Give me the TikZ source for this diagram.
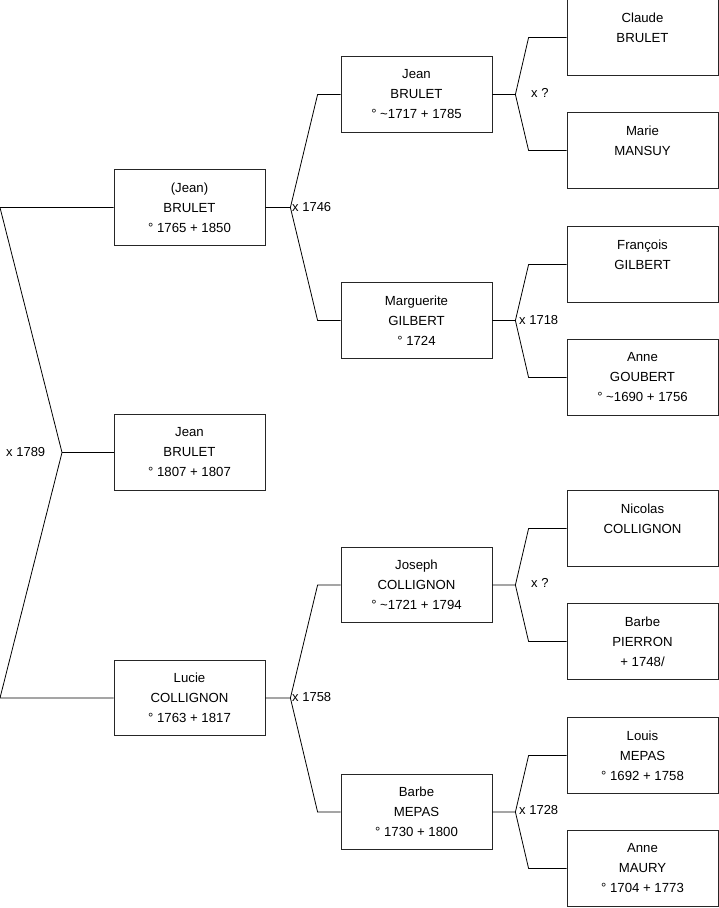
\documentclass[tikz,border=0pt]{standalone}
\usepackage{fontspec}
\setmainfont{Liberation Sans}
\begin{document}
\begin{tikzpicture}[x=1pt,y=-1pt,
  person/.style={draw=black!85,line width=0.8pt,minimum width=151pt,minimum height=75.5pt,
    inner sep=0pt,align=center,font=\fontsize{13.2}{20}\selectfont,text=black},
  link/.style={draw=black,line width=0.8pt},
  mlabel/.style={anchor=west,inner sep=0pt,font=\fontsize{13}{15}\selectfont}
]
\useasboundingbox (0,0) rectangle (719,908);
\coordinate (o) at (0,0);
% column 1
\node[person] (p1) at (189.5,207.5) {(Jean)\\BRULET\\° 1765 + 1850};
\node[person] (p2) at (189.5,452.5) {Jean\\BRULET\\° 1807 + 1807};
\node[person] (p3) at (189.5,698) {Lucie\\COLLIGNON\\° 1763 + 1817};
% column 2
\node[person] (q1) at (416.5,94.5) {Jean\\BRULET\\° \textasciitilde 1717 + 1785};
\node[person] (q2) at (416.5,320.5) {Marguerite\\GILBERT\\° 1724};
\node[person] (q3) at (416.5,585) {Joseph\\COLLIGNON\\° \textasciitilde 1721 + 1794};
\node[person] (q4) at (416.5,812) {Barbe\\MEPAS\\° 1730 + 1800};
% column 3
\node[person] (r1) at (642.5,37.5) {Claude\\BRULET\\\phantom{X}};
\node[person] (r2) at (642.5,150.5) {Marie\\MANSUY\\\phantom{X}};
\node[person] (r3) at (642.5,264.5) {François\\GILBERT\\\phantom{X}};
\node[person] (r4) at (642.5,377.5) {Anne\\GOUBERT\\° \textasciitilde 1690 + 1756};
\node[person] (r5) at (642.5,528.5) {Nicolas\\COLLIGNON\\\phantom{X}};
\node[person] (r6) at (642.5,641.5) {Barbe\\PIERRON\\+ 1748/};
\node[person] (r7) at (642.5,755.5) {Louis\\MEPAS\\° 1692 + 1758};
\node[person] (r8) at (642.5,868.5) {Anne\\MAURY\\° 1704 + 1773};
% left bracket
\coordinate (a1) at (p1.west -| o);
\coordinate (a3) at (p3.west -| o);
\coordinate (m0) at (62,452.5);
\draw[link] (p1.west) -- (a1) -- (m0) -- (a3) -- (p3.west);
\draw[link] (m0) -- (p2.west);
\node[mlabel] (l0) at (6,452) {x 1789};
% brackets from column 1 to column 2
\coordinate (v1) at ([xshift=25pt]p1.east);
\draw[link] (p1.east) -- (v1) -- ([xshift=-23pt]q1.west) -- (q1.west);
\draw[link] (v1) -- ([xshift=-23pt]q2.west) -- (q2.west);
\node[mlabel] (l1) at (292,207) {x 1746};
\coordinate (v2) at ([xshift=25pt]p3.east);
\draw[link] (p3.east) -- (v2) -- ([xshift=-23pt]q3.west) -- (q3.west);
\draw[link] (v2) -- ([xshift=-23pt]q4.west) -- (q4.west);
\node[mlabel] (l2) at (292,697) {x 1758};
% brackets from column 2 to column 3
\coordinate (w1) at ([xshift=23pt]q1.east);
\draw[link] (q1.east) -- (w1) -- ([xshift=-38pt]r1.west) -- (r1.west);
\draw[link] (w1) -- ([xshift=-38pt]r2.west) -- (r2.west);
\node[mlabel] (l3) at (531,93) {x ?};
\coordinate (w2) at ([xshift=23pt]q2.east);
\draw[link] (q2.east) -- (w2) -- ([xshift=-38pt]r3.west) -- (r3.west);
\draw[link] (w2) -- ([xshift=-38pt]r4.west) -- (r4.west);
\node[mlabel] (l4) at (519,320) {x 1718};
\coordinate (w3) at ([xshift=23pt]q3.east);
\draw[link] (q3.east) -- (w3) -- ([xshift=-38pt]r5.west) -- (r5.west);
\draw[link] (w3) -- ([xshift=-38pt]r6.west) -- (r6.west);
\node[mlabel] (l5) at (531,583) {x ?};
\coordinate (w4) at ([xshift=23pt]q4.east);
\draw[link] (q4.east) -- (w4) -- ([xshift=-38pt]r7.west) -- (r7.west);
\draw[link] (w4) -- ([xshift=-38pt]r8.west) -- (r8.west);
\node[mlabel] (l6) at (519,810) {x 1728};
\end{tikzpicture}
\end{document}
